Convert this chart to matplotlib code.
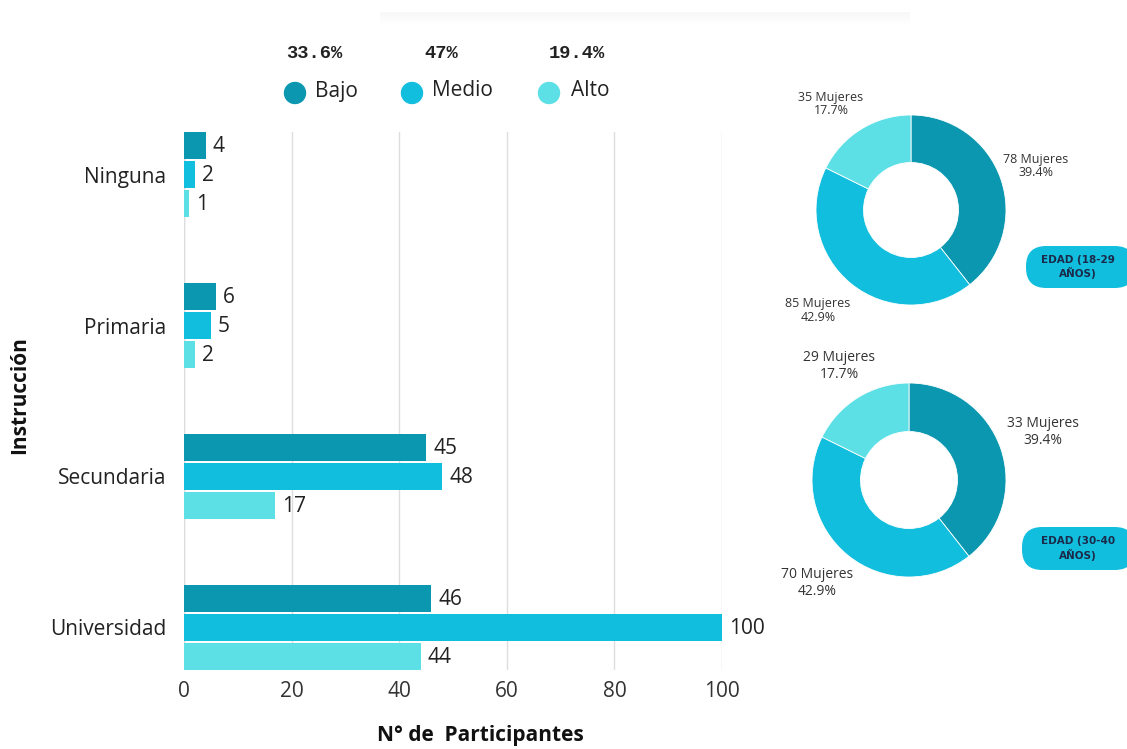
import matplotlib
matplotlib.use("Agg")
import matplotlib.pyplot as plt
from matplotlib.patches import FancyBboxPatch, Ellipse
import numpy as np

categories = ["Ninguna", "Primaria", "Secundaria", "Universidad"]
levels = ["Bajo", "Medio", "Alto"]
bajo = [4, 6, 45, 46]
medio = [2, 5, 48, 100]
alto = [1, 2, 17, 44]
level_pct = ["33.6%", "47%", "19.4%"]
colors = ["#0A97AF", "#12BEDD", "#5CE0E6"]
xticks = [0, 20, 40, 60, 80, 100]

donut1_counts = [78, 85, 35]
donut1_pct = [39.4, 42.9, 17.7]
donut1_title = "EDAD (18-29\nAÑOS)"
donut2_counts = [33, 70, 29]
donut2_pct = [39.4, 42.9, 17.7]
donut2_title = "EDAD (30-40\nAÑOS)"

W, H = 1127, 749
fig = plt.figure(figsize=(W / 100, H / 100), dpi=100)
fig.patch.set_facecolor("white")

def fx(px):
    return px / W

def fy(py):
    return 1 - py / H

main_font = ["Open Sans", "DejaVu Sans"]
narrow_font = ["Liberation Sans Narrow", "Open Sans", "DejaVu Sans"]

# faint top band
band = fig.add_axes([fx(380), fy(26), fx(530), 14 / H])
band.imshow(np.linspace(0.97, 1.0, 20).reshape(-1, 1) * np.ones((20, 50)),
            cmap="gray", vmin=0, vmax=1, aspect="auto")
band.axis("off")

# bar chart
ax = fig.add_axes([fx(184), fy(670), fx(722 - 184), (670 - 132) / H])
ax.set_xlim(0, 100)
group_spacing = 150.0
bar_step = 29.0
bar_h = 27.0
centers = np.arange(len(categories)) * group_spacing
series = [bajo, medio, alto]
for i, (vals, c) in enumerate(zip(series, colors)):
    ys = centers + (i - 1) * bar_step
    ax.barh(ys, vals, height=bar_h, color=c, edgecolor="none", zorder=3)
    for y, v in zip(ys, vals):
        ax.text(v + 1.3, y + 1, str(v), va="center", ha="left", fontsize=15,
                family=main_font, color="#222222", clip_on=False)
ax.set_ylim(centers[-1] + bar_step + bar_h / 2, centers[0] - bar_step - bar_h / 2)
ax.set_yticks(centers)
ax.set_yticklabels(categories, fontsize=15, family=main_font, color="#222222")
ax.set_xticks(xticks)
ax.set_xticklabels([str(t) for t in xticks], fontsize=15, family=narrow_font, color="#333333")
ax.tick_params(axis="both", length=0, pad=8)
ax.tick_params(axis="y", pad=13)
ax.grid(axis="x", color="#dddddd", linewidth=1, zorder=0)
for s in ax.spines.values():
    s.set_visible(False)
ax.axvline(0, color="#dddddd", linewidth=1, zorder=0)

fig.text(fx(20), fy(395), "Instrucción", rotation=90, ha="center", va="center",
         fontsize=15, fontweight="bold", family=main_font, color="#111111")
fig.text(fx(480), fy(735), "N° de  Participantes", ha="center", va="center",
         fontsize=15, fontweight="bold", family=main_font, color="#111111")

# legend
leg_circle_x = [295, 412, 549]
leg_text_x = [315, 432, 571]
pct_x = [314, 441, 577]
for cx, tx, px, lab, c, p in zip(leg_circle_x, leg_text_x, pct_x, levels, colors, level_pct):
    fig.text(fx(px), fy(53), p, ha="center", va="center", fontsize=13.5,
             family=["Liberation Mono", "DejaVu Sans Mono"], fontweight="bold", color="#222222")
    fig.add_artist(Ellipse((fx(cx), fy(93)), 21 / W, 21 / H,
                           transform=fig.transFigure, color=c))
    fig.text(fx(tx), fy(91), lab, ha="left", va="center", fontsize=15,
             family=main_font, color="#222222")

# donuts
def donut(cxp, cyp, r, pcts, counts, title, label_pos, badge):
    dax = fig.add_axes([fx(cxp - r), fy(cyp + r), 2 * r / W, 2 * r / H])
    dax.pie(pcts, colors=colors, startangle=90, counterclock=False,
            wedgeprops=dict(width=0.5, edgecolor="white", linewidth=0.6))
    dax.set_aspect("auto")
    dax.set_xlim(-1, 1)
    dax.set_ylim(-1, 1)
    dax.axis("off")
    for (lx, ly, fs), n, p in zip(label_pos, counts, pcts):
        fig.text(fx(lx), fy(ly), f"{n} Mujeres\n{p}%", ha="center", va="center",
                 fontsize=fs, family=narrow_font, color="#333333", linespacing=1.1)
    bx0, by0, bx1, by1 = badge
    box = FancyBboxPatch((fx(bx0), fy(by1)), fx(bx1 - bx0), (by1 - by0) / H,
                         boxstyle="round,pad=0,rounding_size=0.018",
                         transform=fig.transFigure, facecolor="#12BEDD",
                         edgecolor="none", mutation_aspect=W / H)
    fig.add_artist(box)
    fig.text(fx(1078), fy((by0 + by1) / 2), title, ha="center", va="center",
             fontsize=7.5, fontweight="bold", family=["DejaVu Sans"], color="#1b2a4a",
             linespacing=1.25)

donut(911, 210, 95, donut1_pct, donut1_counts, donut1_title,
      [(1036, 166, 9), (818, 310, 9), (831, 104, 9)], (1026, 246, 1135, 288))
donut(909, 480, 97, donut2_pct, donut2_counts, donut2_title,
      [(1043, 432, 10), (817, 583, 10), (839, 366, 10)], (1022, 527, 1135, 570))

fig.savefig("out.png", dpi=100, facecolor="white")
